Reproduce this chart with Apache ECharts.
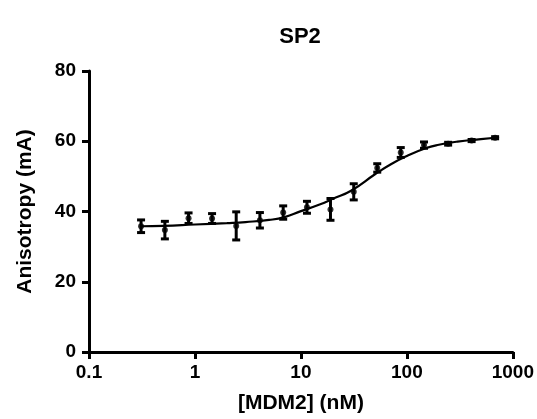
<!DOCTYPE html>
<html>
<head>
<meta charset="utf-8">
<script src="https://cdn.jsdelivr.net/npm/echarts@6/dist/echarts.min.js"></script>
<style>html,body{margin:0;padding:0;background:#fff}#c{width:537px;height:419px}</style>
</head>
<body>
<div id="c"></div>
<script>
// Measured points: concentration (nM), mean anisotropy (mA), error (± mA)
const conc = [0.31, 0.52, 0.87, 1.45, 2.45, 4.1, 6.8, 11.4, 19, 31.5, 52.5, 87.5, 145, 245, 408, 680];
const meanVals = [35.8, 34.7, 38.1, 38.0, 35.9, 37.5, 39.7, 41.2, 40.6, 45.6, 52.4, 56.8, 58.9, 59.3, 60.2, 61.0];
const errVals = [1.8, 2.5, 1.5, 1.4, 4.0, 2.2, 1.9, 1.7, 3.1, 2.3, 1.2, 1.4, 0.9, 0.4, 0.3, 0.3];
// Fitted curve
const curveX = [0.31, 0.5, 1, 2, 3, 5, 7, 10, 15, 20, 30, 50, 70, 100, 150, 200, 300, 500, 680];
const curveY = [35.8, 35.9, 36.3, 36.7, 37.0, 37.6, 38.4, 40.1, 42.0, 43.6, 46.0, 50.6, 53.4, 55.8, 58.0, 59.0, 59.9, 60.6, 61.0];
const yTicks = [0, 20, 40, 60, 80];
const xTicks = [0.1, 1, 10, 100, 1000];
const titleText = 'SP2';
const xName = '[MDM2] (nM)';
const yName = 'Anisotropy (mA)';

const font = 'Arial, "Liberation Sans", sans-serif';
const chart = echarts.init(document.getElementById('c'), null, {renderer: 'canvas'});
const pts = conc.map((x, i) => [x, meanVals[i]]);
const errData = conc.map((x, i) => [x, meanVals[i] - errVals[i], meanVals[i] + errVals[i]]);
const curve = curveX.map((x, i) => [x, curveY[i]]);

chart.setOption({
  animation: false,
  backgroundColor: '#fff',
  title: {
    text: titleText, left: 295, top: 21, textAlign: 'center',
    textStyle: {fontFamily: font, fontSize: 22, fontWeight: 'bold', color: '#000'}
  },
  grid: {left: 89, right: 24, top: 71, bottom: 64, containLabel: false},
  xAxis: {
    type: 'log', logBase: 10, min: xTicks[0], max: xTicks[xTicks.length - 1],
    name: xName, nameLocation: 'middle', nameGap: 41,
    nameTextStyle: {fontFamily: font, fontSize: 21, fontWeight: 'bold', color: '#000'},
    axisLine: {lineStyle: {color: '#000', width: 3}},
    axisTick: {show: true, length: 7, lineStyle: {color: '#000', width: 3}},
    minorTick: {show: false},
    splitLine: {show: false},
    axisLabel: {
      fontFamily: font, fontSize: 19, fontWeight: 'bold', color: '#000', margin: 11,
      formatter: v => String(v)
    }
  },
  yAxis: {
    type: 'value', min: yTicks[0], max: yTicks[yTicks.length - 1], interval: 20,
    name: yName, nameLocation: 'middle', nameGap: 53, nameRotate: 90,
    nameTextStyle: {fontFamily: font, fontSize: 21, fontWeight: 'bold', color: '#000'},
    axisLine: {show: true, lineStyle: {color: '#000', width: 3}},
    axisTick: {show: true, length: 7, lineStyle: {color: '#000', width: 3}},
    splitLine: {show: false},
    axisLabel: {fontFamily: font, fontSize: 19, fontWeight: 'bold', color: '#000', margin: 13}
  },
  series: [
    {
      type: 'line', data: curve, smooth: true, showSymbol: false, symbol: 'none',
      lineStyle: {color: '#000', width: 2.2}, z: 2
    },
    {
      type: 'custom', data: errData, z: 3,
      renderItem: function (params, api) {
        const x = api.value(0);
        const lo = api.coord([x, api.value(1)]);
        const hi = api.coord([x, api.value(2)]);
        const cap = 4;
        const st = {stroke: '#000', lineWidth: 3};
        return {
          type: 'group',
          children: [
            {type: 'line', shape: {x1: lo[0], y1: lo[1], x2: hi[0], y2: hi[1]}, style: st},
            {type: 'line', shape: {x1: lo[0] - cap, y1: lo[1], x2: lo[0] + cap, y2: lo[1]}, style: st},
            {type: 'line', shape: {x1: hi[0] - cap, y1: hi[1], x2: hi[0] + cap, y2: hi[1]}, style: st}
          ]
        };
      }
    },
    {
      type: 'scatter', data: pts, symbol: 'circle', symbolSize: 6,
      itemStyle: {color: '#000'}, z: 4
    }
  ]
});
</script>
</body>
</html>
